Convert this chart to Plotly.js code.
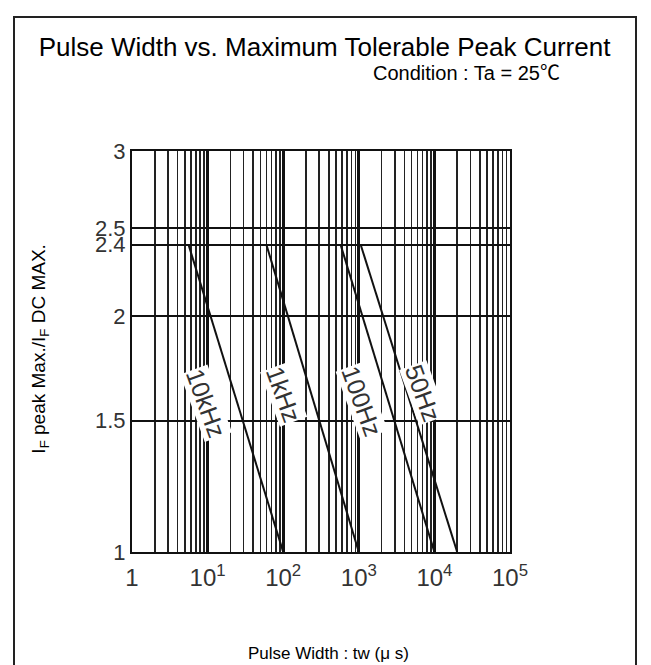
<!DOCTYPE html>
<html>
<head>
<meta charset="utf-8">
<script src="https://cdn.plot.ly/plotly-3.0.1.min.js"></script>
<style>html,body{margin:0;padding:0;background:#fff;}#chart{width:651px;height:665px;}</style>
</head>
<body>
<div id="chart"></div>
<script>
// ---- data ----
const seriesNames = ['10kHz', '1kHz', '100Hz', '50Hz'];
const twStart = [5.6, 60, 575, 1060];        // pulse width (us) at ratio 2.4
const twEnd = [100, 1000, 10000, 20000];     // pulse width (us) at ratio 1
const ratioStart = [2.4, 2.4, 2.4, 2.4];
const ratioEnd = [1, 1, 1, 1];
const yTickValues = [1, 1.5, 2, 2.4, 2.5, 3];
const yTickLabels = ['1', '1.5', '2', '2.4', '2.5', '3'];
const xTickValues = [1, 10, 100, 1000, 10000, 100000];
const xTickLabels = ['1', '10<sup>1</sup>', '10<sup>2</sup>', '10<sup>3</sup>', '10<sup>4</sup>', '10<sup>5</sup>'];
// label anchor positions (fractions of the plot area)
const labelX = [0.196, 0.402, 0.608, 0.770];
const labelY = [0.372, 0.392, 0.377, 0.397];

// the chart's vertical scale is a cube-root scale
const f = v => Math.cbrt(v);

const minorVals = [];
for (let d = 0; d < 5; d++) for (let k = 2; k <= 9; k++) minorVals.push(k * Math.pow(10, d));

const traces = seriesNames.map((n, i) => ({
  type: 'scatter', mode: 'lines', name: n,
  x: [twStart[i], twEnd[i]],
  y: [f(ratioStart[i]), f(ratioEnd[i])],
  line: {color: '#111', width: 2},
  hoverinfo: 'skip', showlegend: false
}));

const sans = '"Liberation Sans", Arial, "Noto Sans CJK SC", sans-serif';

const annotations = seriesNames.map((n, i) => ({
  text: n, xref: 'paper', yref: 'paper', x: labelX[i], y: labelY[i],
  xanchor: 'center', yanchor: 'middle', showarrow: false, textangle: 70,
  bgcolor: '#fff', borderpad: 0,
  font: {family: sans, size: 25, color: '#333'}
}));
annotations.push({
  text: 'Condition : Ta = 25℃', xref: 'paper', yref: 'paper', x: 0.886, y: 1.194,
  xanchor: 'center', yanchor: 'middle', showarrow: false,
  font: {family: sans, size: 20, color: '#000'}
});
annotations.push({
  text: 'Pulse Width : tw (μ s)', xref: 'paper', yref: 'paper', x: 0.519, y: -0.252,
  xanchor: 'center', yanchor: 'middle', showarrow: false,
  font: {family: sans, size: 17, color: '#000'}
});
annotations.push({
  text: 'I<sub>F</sub> peak Max./I<sub>F</sub> DC MAX.', xref: 'paper', yref: 'paper', x: -0.243, y: 0.505,
  xanchor: 'center', yanchor: 'middle', showarrow: false, textangle: -90,
  font: {family: sans, size: 19, color: '#000'}
});

const layout = {
  width: 651, height: 665,
  margin: {l: 132, r: 141, t: 151, b: 113},
  paper_bgcolor: '#fff', plot_bgcolor: '#fff',
  title: {
    text: 'Pulse Width vs. Maximum Tolerable Peak Current',
    x: 0.4985, xref: 'container', xanchor: 'center',
    y: 1 - 47 / 665, yref: 'container', yanchor: 'middle',
    font: {family: sans, size: 26, color: '#000'}
  },
  xaxis: {
    type: 'log', range: [0, 5],
    tickmode: 'array', tickvals: xTickValues, ticktext: xTickLabels,
    showgrid: true, gridcolor: '#111', gridwidth: 3,
    minor: {tickmode: 'array', tickvals: minorVals, showgrid: true, gridcolor: '#222', gridwidth: 1.6, ticks: ''},
    ticks: '', ticklabelstandoff: 3,
    showline: true, linecolor: '#111', linewidth: 2, mirror: true,
    zeroline: false,
    tickfont: {family: sans, size: 24, color: '#333'}
  },
  yaxis: {
    range: [f(1), f(3)],
    tickmode: 'array', tickvals: yTickValues.map(f), ticktext: yTickLabels,
    showgrid: true, gridcolor: '#111', gridwidth: 2,
    ticks: '', ticklabelstandoff: 0,
    showline: true, linecolor: '#111', linewidth: 2, mirror: true,
    zeroline: false,
    tickfont: {family: sans, size: 22, color: '#333'}
  },
  shapes: [{
    type: 'rect', xref: 'paper', yref: 'paper',
    x0: (14 - 132) / 378, x1: (636 - 132) / 378,
    y0: (552 - 720) / 401, y1: (552 - 17) / 401,
    line: {color: '#222', width: 2}, fillcolor: 'rgba(0,0,0,0)', layer: 'below'
  }],
  annotations: annotations,
  showlegend: false
};

Plotly.newPlot('chart', traces, layout, {staticPlot: true, displayModeBar: false});
</script>
</body>
</html>
